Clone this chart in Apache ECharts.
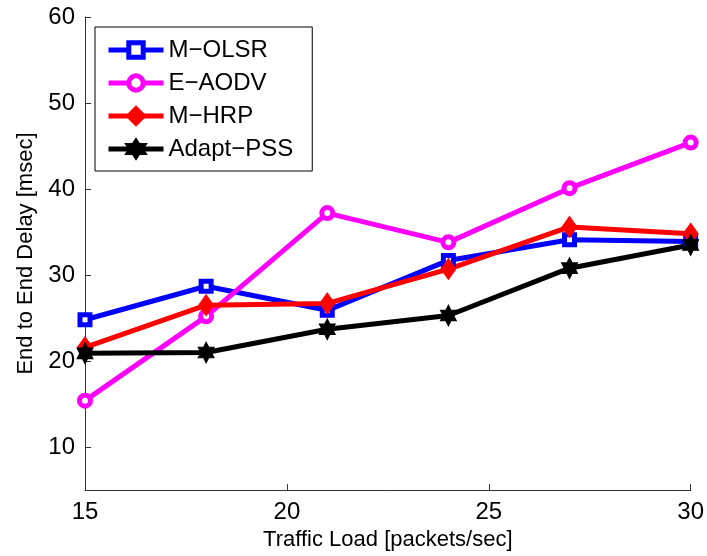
<!DOCTYPE html>
<html>
<head>
<meta charset="utf-8">
<script src="https://cdn.jsdelivr.net/npm/echarts@6/dist/echarts.min.js"></script>
<style>
html, body { margin: 0; padding: 0; background: #fff; }
#chart { width: 707px; height: 556px; }
</style>
</head>
<body>
<div id="chart"></div>
<script>
// traffic load values (packets/sec)
const loads = [15, 18, 21, 24, 27, 30];
// end to end delay (msec) per protocol
const mOlsr = [24.8, 28.7, 25.9, 31.7, 34.1, 33.9];
const eAodv = [15.4, 25.2, 37.2, 33.8, 40.1, 45.4];
const mHrp = [21.6, 26.5, 26.7, 30.7, 35.6, 34.8];
const adaptPss = [20.9, 21.0, 23.7, 25.3, 30.8, 33.5];
const yTicks = [10, 20, 30, 40, 50, 60];

const font = '"Liberation Sans", Arial, sans-serif';
const hexagram = 'path://M0,-10 L2.89,-5 L8.66,-5 L5.77,0 L8.66,5 L2.89,5 L0,10 L-2.89,5 L-8.66,5 L-5.77,0 L-8.66,-5 L-2.89,-5 Z';

function pairs(vals) {
    return loads.map((x, i) => [x, vals[i]]);
}

function makeSeries(name, vals, color, symbol, size, empty) {
    return {
        name: name,
        type: 'line',
        data: pairs(vals),
        color: color,
        symbol: symbol,
        symbolSize: size,
        lineStyle: { width: 5, color: color },
        itemStyle: empty
            ? { color: '#fff', borderColor: color, borderWidth: 5 }
            : { color: color, borderColor: color, borderWidth: 1 },
        emphasis: { disabled: true },
        z: 2
    };
}

const chart = echarts.init(document.getElementById('chart'));
const option = {
    animation: false,
    backgroundColor: '#fff',
    grid: { left: 85, right: 15, top: 17, bottom: 65 },
    legend: {
        orient: 'vertical',
        left: 95,
        top: 27,
        padding: [11, 19, 10, 11],
        backgroundColor: '#fff',
        borderColor: '#000',
        borderWidth: 1,
        itemWidth: 55,
        itemHeight: 18,
        itemGap: 9,
        lineStyle: { width: 5 },
        itemStyle: { borderWidth: 5 },
        textStyle: { fontFamily: font, fontSize: 24, color: '#000' },
        data: ['M\u2212OLSR', 'E\u2212AODV', 'M\u2212HRP', 'Adapt\u2212PSS']
    },
    xAxis: {
        type: 'value',
        min: 15,
        max: 30,
        interval: 5,
        name: 'Traffic Load [packets/sec]',
        nameLocation: 'middle',
        nameGap: 37,
        nameTextStyle: { fontFamily: font, fontSize: 22, color: '#000' },
        axisLine: { lineStyle: { color: '#333', width: 1 } },
        axisTick: { inside: true, length: 6, lineStyle: { color: '#333' } },
        axisLabel: { fontFamily: font, fontSize: 24, color: '#000', margin: 10 },
        splitLine: { show: false }
    },
    yAxis: {
        type: 'value',
        min: 5,
        max: 60,
        name: 'End to End Delay [msec]',
        nameLocation: 'middle',
        nameGap: 48,
        nameTextStyle: { fontFamily: font, fontSize: 22, color: '#000' },
        axisLine: { show: true, lineStyle: { color: '#333', width: 1 } },
        axisTick: { show: true, inside: true, length: 6, customValues: yTicks, lineStyle: { color: '#333' } },
        axisLabel: { fontFamily: font, fontSize: 24, color: '#000', margin: 10, customValues: yTicks },
        splitLine: { show: false }
    },
    series: [
        makeSeries('M\u2212OLSR', mOlsr, '#0000ff', 'rect', 10, true),
        makeSeries('E\u2212AODV', eAodv, '#ff00ff', 'circle', 11, true),
        makeSeries('M\u2212HRP', mHrp, '#ff0000', 'diamond', [15, 21], false),
        makeSeries('Adapt\u2212PSS', adaptPss, '#000000', hexagram, [16, 21], false)
    ]
};
chart.setOption(option);
window.addEventListener('resize', () => chart.resize());
</script>
</body>
</html>
